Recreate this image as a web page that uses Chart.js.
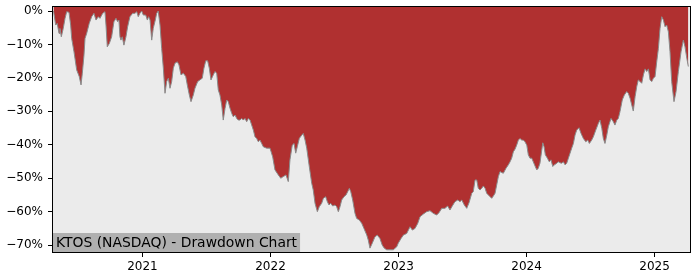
<!DOCTYPE html>
<html>
<head>
<meta charset="utf-8">
<script src="https://cdn.jsdelivr.net/npm/chart.js@4/dist/chart.umd.min.js"></script>
<style>
html,body{margin:0;padding:0;background:#fff;}
#wrap{width:700px;height:280px;}
</style>
</head>
<body>
<div id="wrap"><canvas id="c" width="700" height="280"></canvas></div>
<script>
// Time in decimal years
const years = [
2020.305,2020.322,2020.334,2020.348,2020.355,2020.366,2020.381,2020.395,2020.408,2020.426,
2020.439,2020.447,2020.465,2020.486,2020.506,2020.520,2020.530,2020.543,2020.551,2020.564,
2020.584,2020.603,2020.621,2020.637,2020.655,2020.668,2020.689,2020.707,2020.715,2020.725,
2020.741,2020.759,2020.777,2020.793,2020.806,2020.816,2020.824,2020.832,2020.842,2020.855,
2020.871,2020.884,2020.902,2020.923,2020.941,2020.955,2020.967,2020.980,2020.994,2021.006,
2021.025,2021.038,2021.048,2021.059,2021.072,2021.084,2021.100,2021.111,2021.123,2021.137,
2021.150,2021.163,2021.176,2021.189,2021.202,2021.215,2021.228,2021.241,2021.254,2021.272,
2021.285,2021.301,2021.319,2021.338,2021.350,2021.366,2021.379,2021.397,2021.410,2021.431,
2021.449,2021.467,2021.480,2021.494,2021.509,2021.522,2021.535,2021.553,2021.566,2021.580,
2021.592,2021.605,2021.619,2021.631,2021.645,2021.658,2021.670,2021.684,2021.697,2021.709,
2021.723,2021.736,2021.748,2021.762,2021.775,2021.788,2021.801,2021.814,2021.827,2021.840,
2021.853,2021.866,2021.879,2021.892,2021.905,2021.918,2021.931,2021.944,2021.970,2021.996,
2022.017,2022.035,2022.061,2022.080,2022.100,2022.121,2022.139,2022.152,2022.170,2022.184,
2022.197,2022.209,2022.225,2022.244,2022.256,2022.270,2022.283,2022.303,2022.322,2022.334,
2022.348,2022.366,2022.381,2022.400,2022.413,2022.431,2022.444,2022.457,2022.470,2022.486,
2022.504,2022.517,2022.530,2022.543,2022.556,2022.574,2022.590,2022.603,2022.616,2022.627,
2022.642,2022.660,2022.673,2022.694,2022.713,2022.730,2022.752,2022.764,2022.777,2022.795,
2022.816,2022.834,2022.855,2022.873,2022.889,2022.908,2022.934,2022.959,2022.986,2022.998,
2023.020,2023.038,2023.064,2023.090,2023.108,2023.129,2023.150,2023.168,2023.194,2023.220,
2023.246,2023.272,2023.298,2023.316,2023.338,2023.363,2023.384,2023.402,2023.420,2023.441,
2023.463,2023.480,2023.494,2023.514,2023.533,2023.551,2023.572,2023.584,2023.598,2023.611,
2023.623,2023.637,2023.650,2023.663,2023.676,2023.689,2023.702,2023.715,2023.728,2023.741,
2023.754,2023.767,2023.780,2023.793,2023.806,2023.819,2023.840,2023.858,2023.871,2023.884,
2023.897,2023.910,2023.923,2023.936,2023.949,2023.963,2023.975,2023.988,2024.002,2024.014,
2024.027,2024.041,2024.053,2024.066,2024.080,2024.092,2024.105,2024.119,2024.127,2024.137,
2024.147,2024.163,2024.178,2024.191,2024.205,2024.217,2024.230,2024.248,2024.262,2024.275,
2024.288,2024.301,2024.314,2024.327,2024.340,2024.353,2024.366,2024.379,2024.392,2024.410,
2024.426,2024.444,2024.463,2024.478,2024.491,2024.509,2024.522,2024.541,2024.561,2024.574,
2024.588,2024.600,2024.613,2024.627,2024.639,2024.660,2024.678,2024.691,2024.705,2024.717,
2024.730,2024.748,2024.764,2024.783,2024.795,2024.809,2024.822,2024.834,2024.848,2024.861,
2024.873,2024.887,2024.900,2024.913,2024.926,2024.939,2024.952,2024.965,2024.978,2024.991,
2025.004,2025.017,2025.030,2025.043,2025.056,2025.069,2025.082,2025.095,2025.108,2025.121,
2025.134,2025.152,2025.168,2025.186,2025.207,2025.225,2025.238,2025.252,2025.264
];
// Drawdown in percent
const drawdown = [
0,-4.2,-3.7,-6.7,-5.2,-7.7,-5.2,-2.2,-0.2,-0.4,
-4.2,-8.2,-12.2,-17.6,-19.6,-22.1,-18.6,-13.2,-8.2,-6.7,
-3.7,-1.7,-0.7,-2.7,-1.7,-2.2,-0.7,-0.2,-4.2,-10.7,
-9.7,-7.7,-3.2,-2.2,-3.2,-2.7,-7.7,-8.7,-7.7,-10.2,
-7.7,-4.7,-1.7,-0.7,-0.7,-0.2,-1.7,-0.7,0,-1.2,
-1.2,-2.7,-1.7,-2.7,-8.7,-5.2,-2.7,-0.7,0,-4.2,
-11.2,-17.1,-24.6,-21.1,-20.1,-23.1,-21.1,-17.1,-15.6,-15.2,
-16.1,-19.1,-18.6,-19.6,-22.1,-25.1,-27.1,-25.1,-23.1,-21.1,
-20.6,-20.1,-17.1,-14.9,-14.9,-17.1,-20.6,-19.1,-18.1,-18.6,
-23.6,-25.1,-28.1,-32.6,-29.1,-26.6,-27.1,-29.1,-30.6,-31.6,
-31.1,-32.1,-32.6,-32.6,-32.1,-32.6,-32.1,-33.1,-32.1,-32.6,
-34.1,-35.6,-37.6,-38.1,-39.1,-38.6,-39.6,-40.6,-41.0,-41.0,
-43.6,-47.5,-49.0,-50.0,-49.5,-49.0,-51.0,-44.5,-40.1,-39.6,
-42.5,-40.6,-38.1,-37.1,-36.6,-38.6,-41.0,-46.5,-51.5,-53.5,
-57.5,-60.0,-58.5,-57.5,-56.0,-55.5,-57.0,-58.0,-57.5,-58.3,
-58.0,-58.5,-60.0,-58.5,-56.5,-55.5,-55.0,-54.0,-53.0,-54.0,
-56.5,-60.5,-62.0,-62.5,-63.5,-65.0,-67.0,-68.5,-70.9,-69.4,
-67.5,-67.0,-68.0,-70.0,-70.9,-71.4,-71.4,-71.4,-70.5,-69.4,
-68.0,-67.0,-66.5,-64.5,-65.5,-65.0,-63.5,-61.5,-60.7,-60.0,
-59.7,-60.5,-61.0,-60.3,-59.0,-59.0,-58.3,-59.5,-58.3,-57.0,
-56.5,-57.0,-56.5,-58.0,-59.0,-57.3,-54.5,-54.0,-50.5,-50.5,
-53.0,-53.5,-53.0,-52.3,-53.0,-54.5,-55.0,-55.5,-56.0,-55.3,
-54.5,-52.0,-49.5,-48.0,-48.3,-48.5,-47.0,-46.0,-45.1,-44.0,
-42.1,-41.3,-40.1,-38.6,-38.1,-38.6,-38.6,-39.1,-40.1,-43.0,
-44.0,-44.0,-45.1,-46.3,-47.5,-47.0,-45.5,-41.6,-39.4,-40.6,
-43.0,-44.0,-45.1,-44.5,-46.5,-46.0,-45.7,-45.1,-45.4,-45.5,
-45.1,-46.0,-45.5,-44.0,-42.5,-41.0,-39.6,-37.1,-35.6,-34.9,
-36.6,-38.1,-39.1,-38.6,-39.6,-38.6,-37.6,-35.6,-33.6,-32.6,
-35.1,-38.1,-39.6,-37.1,-34.6,-32.1,-33.1,-34.1,-32.6,-32.1,
-30.1,-26.6,-25.1,-24.1,-24.6,-26.1,-28.1,-29.9,-25.6,-22.6,
-20.6,-21.1,-21.6,-19.1,-17.3,-18.1,-17.3,-20.6,-21.1,-20.1,
-19.6,-15.2,-11.2,-5.2,-1.7,-2.7,-4.7,-4.2,-6.2,-12.2,
-21.1,-27.1,-24.1,-18.1,-12.2,-8.7,-10.7,-14.1,-16.6
];
const yearTicks = [2021, 2022, 2023, 2024, 2025];
const pctTicks = [-70, -60, -50, -40, -30, -20, -10, 0];
const chartTitle = 'KTOS (NASDAQ) - Drawdown Chart';

const FONT = "'DejaVu Sans', sans-serif";
Chart.defaults.font.family = FONT;
Chart.defaults.color = '#000';

const points = years.map((x, i) => ({x: x, y: drawdown[i]}));

const framePlugin = {
  id: 'frame',
  beforeDatasetsDraw(chart) {
    const a = chart.chartArea, ctx = chart.ctx;
    ctx.save();
    ctx.fillStyle = '#ebebeb';
    ctx.fillRect(a.left, a.top, a.right - a.left, a.bottom - a.top);
    ctx.restore();
  },
  afterDatasetsDraw(chart) {
    const a = chart.chartArea, ctx = chart.ctx;
    ctx.save();
    ctx.font = "13.9px " + FONT;
    const w = ctx.measureText(chartTitle).width;
    ctx.fillStyle = '#b0b0b0';
    ctx.fillRect(a.left, a.bottom - 19, w + 6, 19);
    ctx.fillStyle = '#000';
    ctx.textBaseline = 'alphabetic';
    ctx.fillText(chartTitle, a.left + 3, a.bottom - 5.5);
    ctx.strokeStyle = '#000';
    ctx.lineWidth = 1;
    ctx.strokeRect(Math.round(a.left) - 0.5, Math.round(a.top) - 0.5, Math.round(a.right - a.left) + 1, Math.round(a.bottom - a.top) + 1);
    ctx.restore();
  }
};

new Chart(document.getElementById('c'), {
  type: 'line',
  data: {
    datasets: [{
      data: points,
      borderColor: '#8a8a8a',
      borderWidth: 1,
      backgroundColor: '#b03030',
      fill: 'end',
      pointRadius: 0,
      tension: 0
    }]
  },
  options: {
    responsive: false,
    animation: false,
    layout: {padding: {left: 0, right: 10, top: 7, bottom: 0}},
    plugins: {legend: {display: false}, tooltip: {enabled: false}},
    scales: {
      x: {
        type: 'linear',
        min: 2020.301,
        max: 2025.277,
        afterBuildTicks: s => { s.ticks = yearTicks.map(v => ({value: v})); },
        afterFit: s => { s.height = 28; s.paddingLeft = 0; s.paddingRight = 0; },
        ticks: {font: {size: 12}, padding: 3, maxRotation: 0, callback: v => String(v)},
        grid: {drawOnChartArea: false, drawTicks: true, tickLength: 5, color: '#000'},
        border: {display: true, color: '#000'}
      },
      y: {
        min: -72.05,
        max: 1.2,
        afterBuildTicks: s => { s.ticks = pctTicks.map(v => ({value: v})); },
        afterFit: s => { s.width = 53; s.paddingTop = 0; s.paddingBottom = 0; },
        ticks: {font: {size: 12}, padding: 5,
          callback: v => v === 0 ? '0%' : '\u2212' + Math.abs(v) + '%'},
        grid: {drawOnChartArea: false, drawTicks: true, tickLength: 5, color: '#000'},
        border: {display: true, color: '#000'}
      }
    }
  },
  plugins: [framePlugin]
});
</script>
</body>
</html>
